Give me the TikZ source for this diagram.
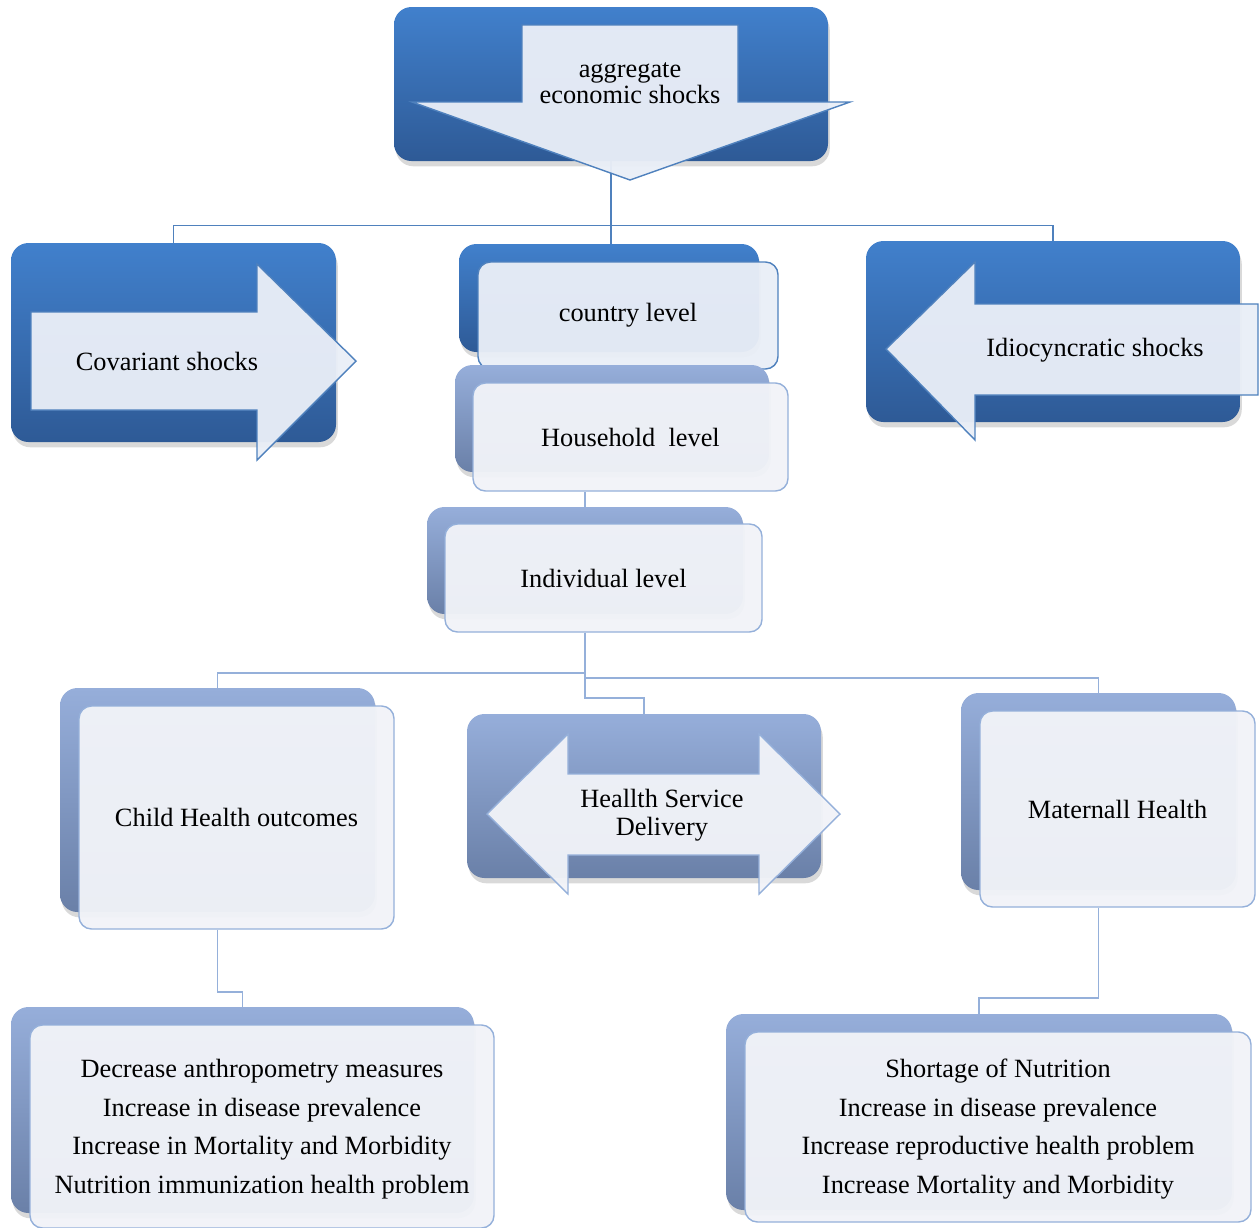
\documentclass[tikz,border=0pt]{standalone}
\usepackage{fontspec}
\setmainfont{Liberation Serif}
\usetikzlibrary{fit,shadows}

\definecolor{deepTop}{HTML}{4180CC}
\definecolor{deepBot}{HTML}{2E5A96}
\definecolor{paleTop}{HTML}{96AEDA}
\definecolor{paleBot}{HTML}{6A80A8}
\definecolor{lineDeep}{HTML}{4F81BD}
\definecolor{linePale}{HTML}{95B0DA}
\definecolor{faceDeep}{HTML}{E9EEF7}
\definecolor{facePale}{HTML}{F1F3F8}

\pgfdeclarelayer{bg}
\pgfsetlayers{bg,main}

\tikzset{
  lbl/.style={font=\fontsize{15}{18}\selectfont, align=center, text=black},
  deepbox/.style={rounded corners=0.35cm, top color=deepTop, bottom color=deepBot,
    inner sep=0pt, drop shadow={opacity=0.3, shadow xshift=1pt, shadow yshift=-3pt}},
  palebox/.style={deepbox, top color=paleTop, bottom color=paleBot},
  frontdeep/.style={rounded corners=0.25cm, draw=lineDeep, line width=0.8pt,
    fill=faceDeep, fill opacity=0.96, inner sep=0pt},
  frontpale/.style={frontdeep, draw=linePale, fill=facePale},
  arrowdeep/.style={fill=faceDeep, draw=lineDeep, line width=0.8pt, fill opacity=0.96},
  arrowpale/.style={fill=facePale, draw=linePale, line width=0.8pt, fill opacity=0.96},
  linkdeep/.style={draw=lineDeep, line width=0.9pt},
  linkpale/.style={draw=linePale, line width=0.9pt}
}

\begin{document}
\begin{tikzpicture}[x=0.02cm, y=-0.02cm]
  \useasboundingbox (0,0) rectangle (1259,1228);

  % top
  \node[deepbox, fit={(394,7) (828,161)}] (aggb) {};
  \filldraw[arrowdeep] (522,25)--(738,25)--(738,102)--(850,102)--(630,180)--(412,102)--(522,102)--cycle;
  \node[lbl, font=\fontsize{15}{15}\selectfont] (aggt) at (630,83) {aggregate\\economic shocks};

  % shocks
  \node[deepbox, fit={(11,243) (336,442)}] (covb) {};
  \filldraw[arrowdeep] (31,312)--(257,312)--(257,264)--(356,361)--(257,460)--(257,410)--(31,410)--cycle;
  \node[lbl] (covt) at (167,361) {Covariant shocks};

  \node[deepbox, fit={(866,241) (1240,422)}] (idib) {};
  \filldraw[arrowdeep] (1258,304)--(975,304)--(975,262)--(886,349)--(975,440)--(975,395)--(1258,395)--cycle;
  \node[lbl] (idit) at (1095,350) {Idiocyncratic shocks};

  % levels
  \node[deepbox, fit={(459,244) (759,352)}] (ctryb) {};
  \node[frontdeep, fit={(478,262) (778,369)}] (ctryf) {};
  \node[lbl] (ctryt) at (ctryf) {country level};
  \node[palebox, fit={(455,365) (769,472)}] (hseb) {};
  \node[frontpale, fit={(473,383) (788,491)}] (hsef) {};
  \node[lbl] (hset) at (hsef) {Household\ \ level};
  \node[palebox, fit={(427,507) (743,614)}] (indb) {};
  \node[frontpale, fit={(445,524) (762,632)}] (indf) {};
  \node[lbl] (indt) at (indf) {Individual level};

  % outcomes
  \node[palebox, fit={(60,688) (375,912)}] (chb) {};
  \node[frontpale, fit={(79,706) (394,929)}] (chf) {};
  \node[lbl] (cht) at (chf) {Child Health outcomes};

  \node[palebox, fit={(467,714) (821,878)}] (hsdb) {};
  \filldraw[arrowpale] (487,814)--(568,734)--(568,774)--(759,774)--(759,734)--(840,814)--(759,894)--(759,855)--(568,855)--(568,894)--cycle;
  \node[lbl, font=\fontsize{15}{16}\selectfont] (hsdt) at (662,815) {Heallth Service\\Delivery};

  \node[palebox, fit={(961,693) (1236,890)}] (matb) {};
  \node[frontpale, fit={(980,711) (1255,907)}] (matf) {};
  \node[lbl] (matt) at (matf) {Maternall Health};

  % effects
  \node[palebox, fit={(11,1007) (474,1213)}] (cheb) {};
  \node[frontpale, fit={(30,1025) (494,1228)}] (chef) {};
  \node[lbl, font=\fontsize{15}{22}\selectfont] (chet) at (262,1129)
    {Decrease anthropometry measures\\Increase in disease prevalence\\Increase in Mortality and Morbidity\\Nutrition immunization health problem};
  \node[palebox, fit={(726,1014) (1232,1210)}] (mateb) {};
  \node[frontpale, fit={(745,1032) (1251,1222)}] (matef) {};
  \node[lbl, font=\fontsize{15}{22}\selectfont] (matet) at (998,1129)
    {Shortage of Nutrition\\Increase in disease prevalence\\Increase reproductive health problem\\Increase Mortality and Morbidity};

  \begin{pgfonlayer}{bg}
    \draw[linkdeep] (aggb.south) -- ++(0,64) -| (covb.north);
    \draw[linkdeep] (aggb.south) -- ++(0,64) -| (idib.north);
    \draw[linkdeep] (aggb.south) -- (aggb.south |- ctryb.north);
    \draw[linkpale] (indb.north) -- (indb.north |- hsef.south);
    \draw[linkpale] (indb.north |- indf.south) -- ++(0,40) -| (chb.north);
    \draw[linkpale] (indb.north |- indf.south) -- ++(0,45) -| (matb.north);
    \draw[linkpale] (indb.north |- indf.south) -- ++(0,65) -| (hsdb.north);
    \draw[linkpale] (chb.north |- chf.south) -- ++(0,62) -| (cheb.north);
    \draw[linkpale] (matb.north |- matf.south) -- ++(0,90) -| (mateb.north);
  \end{pgfonlayer}
\end{tikzpicture}
\end{document}
